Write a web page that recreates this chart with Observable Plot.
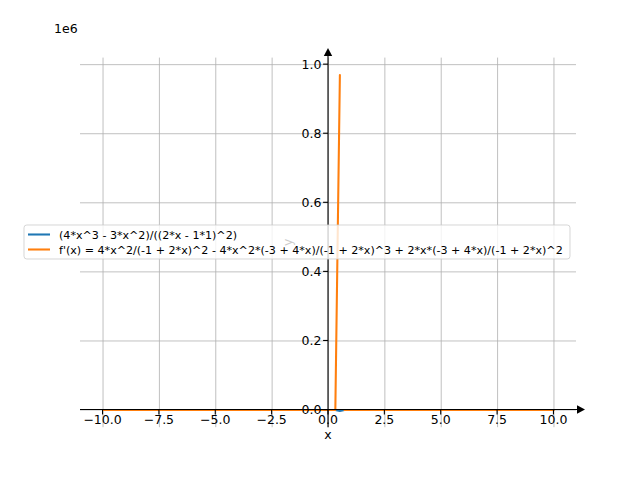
<!DOCTYPE html>
<html>
<head>
<meta charset="utf-8">
<script src="https://cdn.jsdelivr.net/npm/d3@7"></script>
<script src="https://cdn.jsdelivr.net/npm/@observablehq/plot@0.6"></script>
<style>
  html, body { margin: 0; padding: 0; background: white; }
  #chart svg { display: block; }
</style>
</head>
<body>
<div id="chart"></div>
<script>
// ---- data ----
const xTicks = [-10, -7.5, -5, -2.5, 0, 2.5, 5, 7.5, 10];
const xTickLabels = ["\u221210.0", "\u22127.5", "\u22125.0", "\u22122.5", "0.0", "2.5", "5.0", "7.5", "10.0"];
const yTicks = [0, 200000, 400000, 600000, 800000, 1000000];
const yTickLabels = ["0.0", "0.2", "0.4", "0.6", "0.8", "1.0"];
const yOffsetLabel = "1e6";
const xLabel = "x";
const yLabel = "y";

// f(x): essentially zero at this scale, small dip near x = 0.5
const fX = [-10, 0.303, 0.505, 0.707, 10];
const fY = [-9.8, -1.1, -2450, -0.5, 10.2];

// f'(x): flat near zero, spike to ~0.97e6 just right of x = 0.5, gap after it
const dfX = [-10, 0.303, 0.505, 0.606, 0.707, 10];
const dfY = [1.0, -15, 970000, null, 1.2, 1.0];

const seriesNames = [
  "(4*x^3 - 3*x^2)/((2*x - 1*1)^2)",
  "f'(x) = 4*x^2/(-1 + 2*x)^2 - 4*x^2*(-3 + 4*x)/(-1 + 2*x)^3 + 2*x*(-3 + 4*x)/(-1 + 2*x)^2"
];
const seriesColors = ["#1f77b4", "#ff7f0e"];

const xDomain = [-11, 11];
const yDomain = [-51087, 1018936];

// ---- tables built from the arrays ----
const fData = fX.map((x, i) => ({x, y: fY[i]}));
const dfData = dfX.map((x, i) => ({x, y: dfY[i]}));

const FONT = "DejaVu Sans";
const tickFont = 12.5;
const legendFont = 11.1;

function axesMark(index, scales, values, dim) {
  const {x, y} = scales;
  const g = d3.create("svg:g").attr("font-family", FONT).attr("text-anchor", "start");
  const left = dim.marginLeft, right = dim.width - dim.marginRight;
  const top = dim.marginTop, bottom = dim.height - dim.marginBottom;
  const x0 = x(0), y0 = y(0);
  // spines
  g.append("line").attr("x1", left).attr("x2", right + 5).attr("y1", y0).attr("y2", y0)
    .attr("stroke", "black").attr("stroke-width", 1.1);
  g.append("line").attr("x1", x0).attr("x2", x0).attr("y1", bottom).attr("y2", top - 5)
    .attr("stroke", "black").attr("stroke-width", 1.1);
  // arrows
  g.append("path").attr("d", `M${right + 9},${y0} L${right + 1},${y0 - 4.2} L${right + 1},${y0 + 4.2} Z`).attr("fill", "black");
  g.append("path").attr("d", `M${x0},${top - 9.6} L${x0 - 4.2},${top - 1.6} L${x0 + 4.2},${top - 1.6} Z`).attr("fill", "black");
  // x ticks
  xTicks.forEach((t, i) => {
    const px = x(t);
    g.append("line").attr("x1", px).attr("x2", px).attr("y1", y0).attr("y2", y0 + 4.9)
      .attr("stroke", "black").attr("stroke-width", 1.1);
    g.append("text").attr("x", px).attr("y", y0 + 14.5).attr("text-anchor", "middle")
      .attr("font-size", tickFont).attr("fill", "black").text(xTickLabels[i]);
  });
  // y ticks
  yTicks.forEach((t, i) => {
    const py = y(t);
    g.append("line").attr("x1", x0).attr("x2", x0 - 4.9).attr("y1", py).attr("y2", py)
      .attr("stroke", "black").attr("stroke-width", 1.1);
    g.append("text").attr("x", x0 - 6.5).attr("y", py + 4.5).attr("text-anchor", "end")
      .attr("font-size", tickFont).attr("fill", "black").text(yTickLabels[i]);
  });
  // axis labels
  g.append("text").attr("x", x0).attr("y", y0 + 29).attr("text-anchor", "middle")
    .attr("font-size", tickFont).attr("fill", "black").text(xLabel);
  g.append("text").attr("transform", `translate(${x0 - 36},${(top + bottom) / 2}) rotate(-90)`)
    .attr("text-anchor", "middle").attr("font-size", tickFont).attr("fill", "black").text(yLabel);
  // offset text
  g.append("text").attr("x", left - 26).attr("y", top - 24.5).attr("text-anchor", "start")
    .attr("font-size", tickFont).attr("fill", "black").text(yOffsetLabel);
  return g.node();
}

function legendMark(index, scales, values, dim) {
  const g = d3.create("svg:g").attr("font-family", FONT).attr("text-anchor", "start");
  const bx = 24, by = 225, bw = 546, bh = 34;
  g.append("rect").attr("x", bx).attr("y", by).attr("width", bw).attr("height", bh)
    .attr("rx", 2.8).attr("fill", "white").attr("fill-opacity", 0.8)
    .attr("stroke", "#cccccc").attr("stroke-opacity", 0.8).attr("stroke-width", 1);
  seriesNames.forEach((name, i) => {
    const cy = by + 9.5 + i * 15;
    g.append("line").attr("x1", bx + 4).attr("x2", bx + 26).attr("y1", cy).attr("y2", cy)
      .attr("stroke", seriesColors[i]).attr("stroke-width", 2.08);
    g.append("text").attr("x", bx + 35).attr("y", cy + 4).attr("text-anchor", "start")
      .attr("font-size", legendFont).attr("fill", "black").text(name);
  });
  return g.node();
}

const chart = Plot.plot({
  width: 640,
  height: 480,
  marginTop: 57.6,
  marginBottom: 52.8,
  marginLeft: 80,
  marginRight: 64,
  style: {fontFamily: FONT, background: "white", color: "black"},
  x: {domain: xDomain, axis: null},
  y: {domain: yDomain, axis: null},
  marks: [
    Plot.ruleX(xTicks, {stroke: "#b0b0b0", strokeWidth: 0.8}),
    Plot.ruleY(yTicks, {stroke: "#b0b0b0", strokeWidth: 0.8}),
    Plot.line(fData, {x: "x", y: "y", stroke: seriesColors[0], strokeWidth: 2.08, clip: true}),
    Plot.line(dfData, {x: "x", y: "y", stroke: seriesColors[1], strokeWidth: 2.08, clip: true}),
    axesMark,
    legendMark
  ]
});
document.getElementById("chart").appendChild(chart);
</script>
</body>
</html>
